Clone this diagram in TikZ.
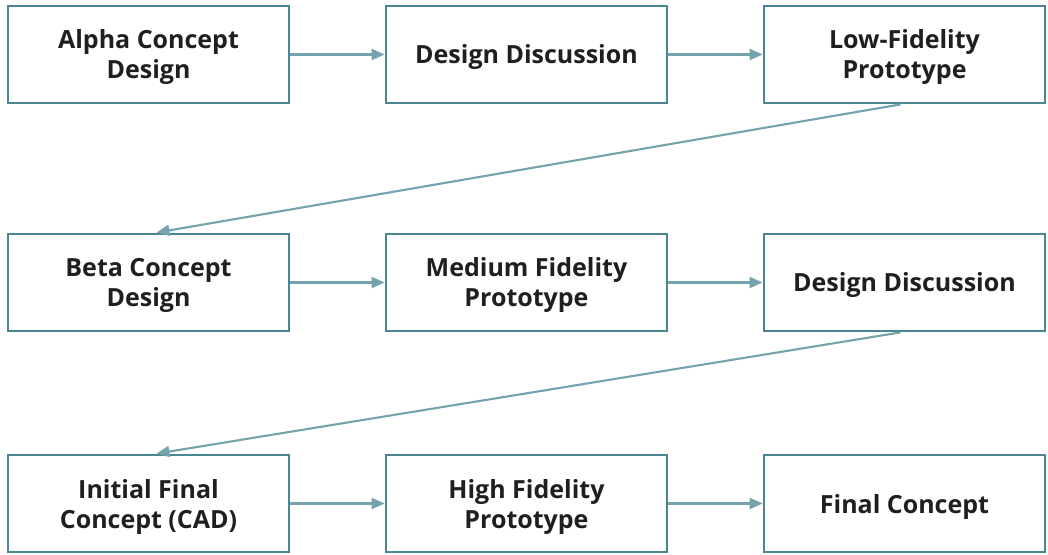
\documentclass[tikz,border=0pt]{standalone}
\usepackage{fontspec}
\setmainfont{Open Sans}
\usetikzlibrary{arrows.meta,positioning,calc}
\definecolor{boxline}{HTML}{4A8793}
\definecolor{arrowline}{HTML}{74A3AE}
\begin{document}
\begin{tikzpicture}[x=1pt,y=1pt,
  stepbox/.style={draw=boxline,line width=2.8pt,fill=white,minimum width=281pt,minimum height=97pt,
    inner sep=0pt,label={[caption]center:#1}},
  caption/.style={align=center,font=\fontsize{25}{30}\selectfont\bfseries,text=black!88,
    inner sep=0pt,yshift=-3pt},
  flow/.style={draw=arrowline,line width=2.1pt,-{Triangle[length=13pt,width=11pt]}}]
\useasboundingbox[fill=white] (0,0) rectangle (1048,-554);
% row 1
\node[stepbox={Alpha Concept\\Design}] (a1) at (148.5,-54.5) {};
\node[stepbox={Design Discussion}] (a2) at (526.5,-54.5) {};
\node[stepbox={Low-Fidelity\\Prototype}] (a3) at (904.5,-54.5) {};
% row 2
\node[stepbox={Beta Concept\\Design}] (b1) at (148.5,-282.5) {};
\node[stepbox={Medium Fidelity\\Prototype}] (b2) at (526.5,-282.5) {};
\node[stepbox={Design Discussion}] (b3) at (904.5,-282.5) {};
% row 3
\node[stepbox={Initial Final\\Concept (CAD)}] (c1) at (148.5,-503.5) {};
\node[stepbox={High Fidelity\\Prototype}] (c2) at (526.5,-503.5) {};
\node[stepbox={Final Concept}] (c3) at (904.5,-503.5) {};
% connectors
\draw[flow] (a1.east) -- (a2.west);
\draw[flow] (a2.east) -- (a3.west);
\draw[flow] ($(a3.south)+(-4,0)$) -- ($(b1.north)+(8,0)$);
\draw[flow] (b1.east) -- (b2.west);
\draw[flow] (b2.east) -- (b3.west);
\draw[flow] ($(b3.south)+(-4,0)$) -- ($(c1.north)+(8,0)$);
\draw[flow] (c1.east) -- (c2.west);
\draw[flow] (c2.east) -- (c3.west);
\end{tikzpicture}
\end{document}
